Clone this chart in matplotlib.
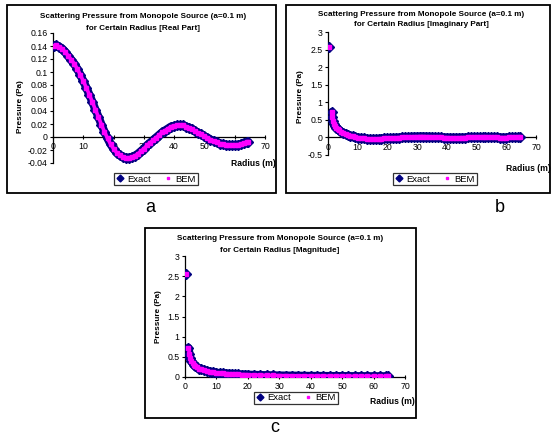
import matplotlib.pyplot as plt
from matplotlib.patches import Rectangle
from matplotlib.lines import Line2D

plt.rcParams['font.family'] = ['Liberation Sans', 'DejaVu Sans']

W, H = 551, 445

# real part (panel a)
real_r = [0.3, 1, 2, 3, 4, 5, 6, 7, 8, 9, 10, 11, 12, 13, 14, 15, 16, 17, 18, 19, 20,
          21, 22, 23, 24, 25, 26, 27, 28, 29, 30, 31, 32, 33, 34, 35, 36, 37, 38, 39, 40,
          41, 42, 43, 44, 45, 46, 47, 48, 49, 50, 51, 52, 53, 54, 55, 56, 57, 58, 59, 60,
          61, 62, 63, 64, 64.5]
real_p = [0.140, 0.141, 0.139, 0.136, 0.131, 0.125, 0.119, 0.113, 0.105, 0.096, 0.086,
          0.076, 0.065, 0.054, 0.042, 0.031, 0.019, 0.008, -0.002, -0.011, -0.018,
          -0.024, -0.028, -0.031, -0.032, -0.032, -0.031, -0.029, -0.026, -0.022, -0.018,
          -0.013, -0.009, -0.005, -0.001, 0.003, 0.007, 0.010, 0.013, 0.016, 0.017,
          0.018, 0.018, 0.018, 0.016, 0.014, 0.012, 0.009, 0.006, 0.004, 0.001,
          -0.001, -0.004, -0.006, -0.008, -0.010, -0.011, -0.012, -0.013, -0.013, -0.013,
          -0.012, -0.011, -0.009, -0.008, -0.008]

# imaginary part (panel b)
imag_r = [0.35, 1.3, 1.4, 1.7, 2.0, 2.4, 2.8, 3.3, 3.8, 4.5, 5.2, 6.0, 6.7, 7.5, 8.3, 9,
          10, 11, 12, 13, 14, 15, 16, 17, 18, 19, 20, 21, 22, 23, 24, 25, 26, 27, 28, 29,
          30, 31, 32, 33, 34, 35, 36, 37, 38, 39, 40, 41, 42, 43, 44, 45, 46, 47, 48, 49,
          50, 51, 52, 53, 54, 55, 56, 57, 58, 59, 60, 61, 62, 63, 64, 64.5]
imag_p = [2.57, 0.72, 0.58, 0.46, 0.38, 0.32, 0.27, 0.23, 0.20, 0.16, 0.13, 0.09, 0.07,
          0.05, 0.03, 0.015, -0.005, -0.02, -0.03, -0.04, -0.045, -0.045, -0.045, -0.04,
          -0.035, -0.03, -0.025, -0.02, -0.015, -0.01, -0.005, 0.0, 0.005, 0.01, 0.015,
          0.02, 0.02, 0.025, 0.025, 0.02, 0.02, 0.015, 0.01, 0.005, 0.0, -0.005, -0.005,
          -0.01, -0.01, -0.01, -0.01, -0.005, -0.005, 0.0, 0.0, 0.005, 0.005, 0.005,
          0.005, 0.005, 0.0, 0.0, 0.0, 0.0, -0.005, -0.005, -0.005, 0.0, 0.0, 0.0, 0.0, 0.0]

# magnitude (panel c)
mag_r = [0.25, 1.1, 1.4, 1.6, 2.0, 2.4, 2.8, 3.3, 3.8, 4.5, 5.2, 6.0, 7, 8, 9, 10,
         11, 12, 13, 14, 15, 16, 17, 18, 19, 20, 22, 24, 26, 28, 30, 32, 34, 36, 38,
         40, 42, 44, 46, 48, 50, 52, 54, 56, 58, 60, 62, 64, 64.5]
mag_p = [2.56, 0.72, 0.58, 0.47, 0.40, 0.35, 0.30, 0.27, 0.24, 0.21, 0.19, 0.17, 0.15,
         0.13, 0.12, 0.105, 0.095, 0.09, 0.085, 0.08, 0.075, 0.07, 0.065, 0.06, 0.058,
         0.055, 0.05, 0.046, 0.042, 0.038, 0.035, 0.033, 0.031, 0.029, 0.027, 0.025,
         0.024, 0.023, 0.022, 0.021, 0.02, 0.019, 0.018, 0.018, 0.017, 0.016, 0.016,
         0.015, 0.015]

panels = [
    dict(r=real_r, p=real_p, gap=0, box=(7, 5, 276, 193), ax=(53, 33, 265, 163),
         ylim=(-0.04, 0.16), yticks=[-0.04, -0.02, 0, 0.02, 0.04, 0.06, 0.08, 0.1, 0.12, 0.14, 0.16],
         ylabels=['-0.04', '-0.02', '0', '0.02', '0.04', '0.06', '0.08', '0.1', '0.12', '0.14', '0.16'],
         part='[Real Part]', title=(143, 17, 28), ylab=(21, 107), xlab=(253, 163),
         leg=(156, 179), tag=('a', 150, 207)),
    dict(r=imag_r, p=imag_p, gap=1, box=(286, 5, 550, 193), ax=(328, 32, 536, 155),
         ylim=(-0.5, 3), yticks=[-0.5, 0, 0.5, 1, 1.5, 2, 2.5, 3],
         ylabels=['-0.5', '0', '0.5', '1', '1.5', '2', '2.5', '3'],
         part='[Imaginary Part]', title=(421, 15, 25), ylab=(300, 97), xlab=(528, 168),
         leg=(435, 179), tag=('b', 500, 207)),
    dict(r=mag_r, p=mag_p, gap=1, box=(145, 228, 416, 418), ax=(185, 256, 405, 377),
         ylim=(0, 3), yticks=[0, 0.5, 1, 1.5, 2, 2.5, 3],
         ylabels=['0', '0.5', '1', '1.5', '2', '2.5', '3'],
         part='[Magnitude]', title=(280, 238, 251), ylab=(159, 317), xlab=(392, 401),
         leg=(296, 398), tag=('c', 275, 428)),
]

fig = plt.figure(figsize=(W / 100, H / 100), dpi=100)

exact_col = '#000080'
bem_col = '#FF00FF'

for pn in panels:
    bx0, by0, bx1, by1 = pn['box']
    fig.patches.append(Rectangle((bx0 / W, 1 - by1 / H), (bx1 - bx0) / W, (by1 - by0) / H,
                                 transform=fig.transFigure, fill=False, ec='black', lw=1.3))
    x0, y0, x1, y1 = pn['ax']
    ax = fig.add_axes([x0 / W, 1 - y1 / H, (x1 - x0) / W, (y1 - y0) / H])
    g = pn['gap']
    r, p = pn['r'], pn['p']
    # dense sampled points drawn as a band, plus markers
    ax.plot(r[g:], p[g:], color=exact_col, lw=6, solid_capstyle='round', zorder=2)
    ax.plot(r, p, ls='none', marker='D', ms=5, color=exact_col, zorder=3)
    ax.plot(r[g:], p[g:], color=bem_col, lw=2.6, solid_capstyle='round', zorder=4)
    ax.plot(r, p, ls='none', marker='s', ms=2.4, color=bem_col, zorder=5)
    ax.set_xlim(0, 70)
    ax.set_ylim(*pn['ylim'])
    ax.set_xticks(range(0, 71, 10))
    ax.set_yticks(pn['yticks'])
    ax.set_yticklabels(pn['ylabels'])
    for s in ['top', 'right']:
        ax.spines[s].set_visible(False)
    ax.spines['bottom'].set_position(('data', 0))
    ax.spines['left'].set_linewidth(0.9)
    ax.spines['bottom'].set_linewidth(0.9)
    ax.tick_params(axis='both', labelsize=6.3, length=2.5, width=0.8, direction='out', pad=1.5)
    ax.tick_params(axis='x', direction='inout', length=3.5, pad=2)
    ax.patch.set_alpha(0)

    tx, ty1, ty2 = pn['title']
    fig.text(tx / W, 1 - ty1 / H, 'Scattering Pressure from Monopole Source (a=0.1 m)',
             ha='center', va='center', fontsize=5.9, fontweight='bold')
    fig.text(tx / W, 1 - ty2 / H, 'for Certain Radius ' + pn['part'],
             ha='center', va='center', fontsize=5.9, fontweight='bold')
    lx, ly = pn['ylab']
    fig.text(lx / W, 1 - ly / H, 'Pressure (Pa)', rotation=90, ha='center', va='center',
             fontsize=5.9, fontweight='bold')
    rx, ry = pn['xlab']
    fig.text(rx / W, 1 - ry / H, 'Radius (m)', ha='center', va='center',
             fontsize=6.2, fontweight='bold')

    handles = [Line2D([], [], ls='none', marker='D', ms=3.5, color=exact_col),
               Line2D([], [], ls='none', marker='s', ms=1.8, color=bem_col)]
    gx, gy = pn['leg']
    leg = fig.legend(handles, ['Exact', 'BEM'], loc='center', ncol=2,
                     bbox_to_anchor=(gx / W, 1 - gy / H), fontsize=6.8, frameon=True,
                     fancybox=False, edgecolor='black', handlelength=0.8, handletextpad=0.4,
                     columnspacing=1.4, borderpad=0.2)
    leg.get_frame().set_linewidth(0.9)

    t, cx, cy = pn['tag']
    fig.text(cx / W, 1 - cy / H, t, ha='center', va='center', fontsize=13)

fig.savefig('out.png', dpi=100)
